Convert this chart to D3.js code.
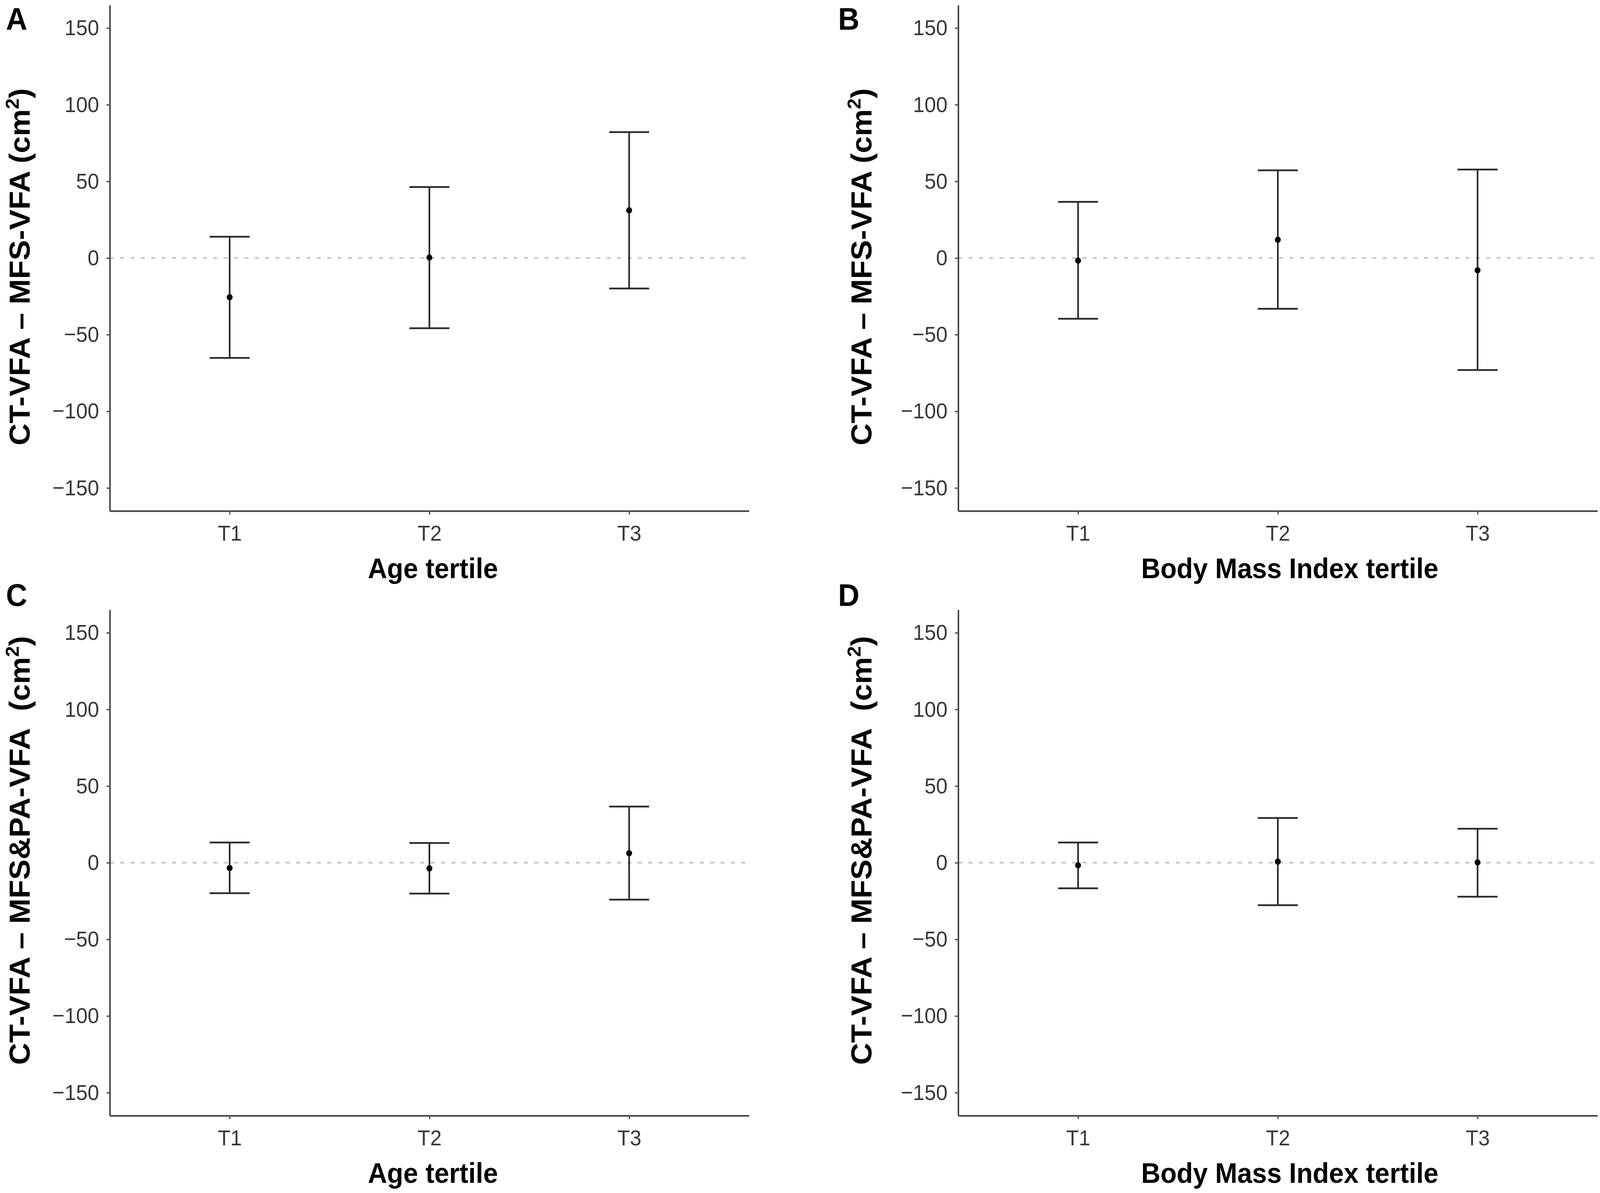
<!DOCTYPE html>
<html>
<head>
<meta charset="utf-8">
<script src="https://cdn.jsdelivr.net/npm/d3@7"></script>
<style>
  html, body { margin: 0; padding: 0; background: #fff; width: 100%; height: 100%; overflow: hidden; }
  svg { display: block; width: 100vw; height: 100vh; }
</style>
</head>
<body>
<svg id="chart"></svg>
<script>
'use strict';
const TERTILES = ['T1', 'T2', 'T3'];
const Y_TICKS = [-150, -100, -50, 0, 50, 100, 150];

// panel A: age tertile, MFS-VFA
const A_MEAN = [-25.6, 0.3, 31.1];
const A_LOWER = [-65.2, -45.8, -19.9];
const A_UPPER = [13.9, 46.3, 82.1];
// panel B: BMI tertile, MFS-VFA
const B_MEAN = [-1.7, 11.9, -8.0];
const B_LOWER = [-39.6, -33.1, -73.1];
const B_UPPER = [36.6, 57.2, 57.7];
// panel C: age tertile, MFS&PA-VFA
const C_MEAN = [-3.5, -3.7, 6.2];
const C_LOWER = [-19.9, -20.1, -24.1];
const C_UPPER = [13.2, 12.9, 36.6];
// panel D: BMI tertile, MFS&PA-VFA
const D_MEAN = [-1.7, 0.7, 0.2];
const D_LOWER = [-16.7, -27.7, -22.2];
const D_UPPER = [13.2, 29.2, 22.2];

const WIDTH = 4328;
const HEIGHT = 3054;
const FONT = '"Liberation Sans", Arial, Helvetica, sans-serif';

const PANELS = [
  { letter: 'A', col: 0, row: 0, yTitle: ['CT-VFA – MFS-VFA (cm', ')'], xTitle: 'Age tertile',
    mean: A_MEAN, lower: A_LOWER, upper: A_UPPER },
  { letter: 'B', col: 1, row: 0, yTitle: ['CT-VFA – MFS-VFA (cm', ')'], xTitle: 'Body Mass Index tertile',
    mean: B_MEAN, lower: B_LOWER, upper: B_UPPER },
  { letter: 'C', col: 0, row: 1, yTitle: ['CT-VFA – MFS&PA-VFA\u00a0 (cm', ')'], xTitle: 'Age tertile',
    mean: C_MEAN, lower: C_LOWER, upper: C_UPPER },
  { letter: 'D', col: 1, row: 1, yTitle: ['CT-VFA – MFS&PA-VFA\u00a0 (cm', ')'], xTitle: 'Body Mass Index tertile',
    mean: D_MEAN, lower: D_LOWER, upper: D_UPPER },
];

const COL_X = [0, 2295];
const ROW_Y = [0, 1548];

const svg = d3.select('#chart')
  .attr('viewBox', `0 0 ${WIDTH} ${HEIGHT}`)
  .attr('preserveAspectRatio', 'none');

svg.append('rect').attr('width', WIDTH).attr('height', HEIGHT).attr('fill', '#fff');

PANELS.forEach(drawPanel);

function drawPanel(p) {
  const ox = COL_X[p.col];
  const oy = ROW_Y[p.row];
  const left = ox + 297, right = ox + 2026;
  const top = oy + 13, bottom = oy + 1308;

  const x = d3.scalePoint().domain(TERTILES).range([left, right]).padding(0.6);
  const y = d3.scaleLinear().domain([-165, 165]).range([bottom, top]);
  const capHalf = x.step() * 0.2 / 2;

  const g = svg.append('g');

  // zero reference line
  g.append('line')
    .attr('x1', left).attr('x2', right)
    .attr('y1', y(0)).attr('y2', y(0))
    .attr('stroke', '#c2c2c2')
    .attr('stroke-width', 4)
    .attr('stroke-dasharray', '11 17');

  const rows = TERTILES.map((t, i) => ({
    t, mean: p.mean[i], lower: p.lower[i], upper: p.upper[i],
  }));

  const bars = g.append('g')
    .selectAll('g')
    .data(rows)
    .enter()
    .append('g')
    .attr('stroke', '#2a2a2a')
    .attr('stroke-width', 4.5);

  bars.append('line')
    .attr('x1', (d) => x(d.t)).attr('x2', (d) => x(d.t))
    .attr('y1', (d) => y(d.lower)).attr('y2', (d) => y(d.upper));
  bars.append('line')
    .attr('x1', (d) => x(d.t) - capHalf).attr('x2', (d) => x(d.t) + capHalf)
    .attr('y1', (d) => y(d.upper)).attr('y2', (d) => y(d.upper));
  bars.append('line')
    .attr('x1', (d) => x(d.t) - capHalf).attr('x2', (d) => x(d.t) + capHalf)
    .attr('y1', (d) => y(d.lower)).attr('y2', (d) => y(d.lower));

  g.append('g')
    .selectAll('circle')
    .data(rows)
    .enter()
    .append('circle')
    .attr('cx', (d) => x(d.t))
    .attr('cy', (d) => y(d.mean))
    .attr('r', 8)
    .attr('fill', '#000');

  // axes
  const styleAxis = (sel) =>
    sel
      .call((a) => a.select('.domain').attr('stroke', '#3c3c3c').attr('stroke-width', 4))
      .call((a) => a.selectAll('.tick line').attr('stroke', '#555').attr('stroke-width', 3.5))
      .call((a) =>
        a.selectAll('.tick text')
          .attr('fill', '#383838')
          .style('font-family', FONT)
          .style('font-size', '56px')
      );

  g.append('g')
    .attr('transform', `translate(${left},0)`)
    .call(
      d3.axisLeft(y)
        .tickValues(Y_TICKS)
        .tickSize(9)
        .tickSizeOuter(0)
        .tickPadding(20)
        .tickFormat((d) => (d < 0 ? '\u2212' + Math.abs(d) : String(d)))
    )
    .call(styleAxis);

  g.append('g')
    .attr('transform', `translate(0,${bottom})`)
    .call(d3.axisBottom(x).tickSize(9).tickSizeOuter(0).tickPadding(27))
    .call(styleAxis);

  // titles
  const yt = g.append('text')
    .attr('transform', `translate(${ox + 80 - p.col * 18},${oy + (p.row ? 629 : 683)}) rotate(-90)`)
    .attr('text-anchor', 'middle')
    .style('font-family', FONT)
    .style('font-size', '78px')
    .style('font-weight', 'bold')
    .attr('fill', '#000');
  yt.append('tspan').text(p.yTitle[0]);
  yt.append('tspan').attr('dy', -29).style('font-size', '50px').text('2');
  yt.append('tspan').attr('dy', 29).text(p.yTitle[1]);

  g.append('text')
    .attr('x', ox + (p.col ? 1194 : 1171))
    .attr('y', oy + 1480)
    .attr('text-anchor', 'middle')
    .style('font-family', FONT)
    .style('font-size', '72px')
    .style('font-weight', 'bold')
    .attr('fill', '#000')
    .text(p.xTitle);

  g.append('text')
    .attr('x', ox + (p.col ? -28 : 16))
    .attr('y', p.row ? 1551 : 76)
    .style('font-family', FONT)
    .style('font-size', '80px')
    .style('font-weight', 'bold')
    .attr('fill', '#000')
    .text(p.letter);
}
</script>
</body>
</html>
